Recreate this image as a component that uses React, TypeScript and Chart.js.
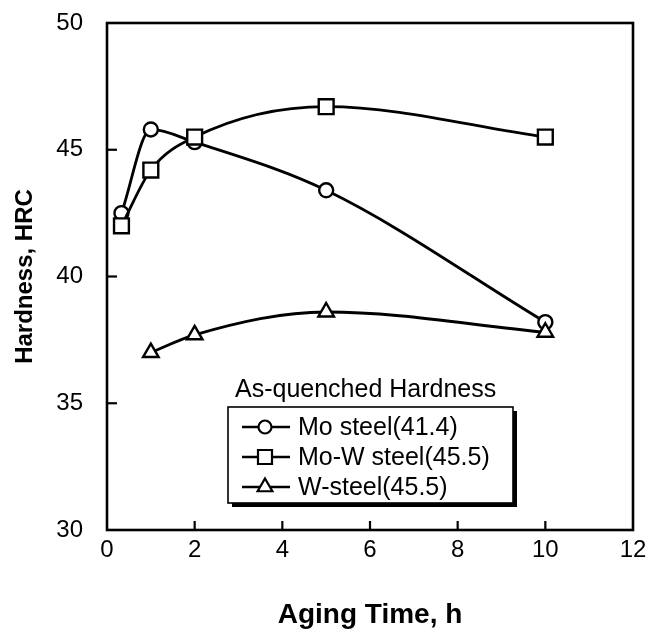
import React, { useEffect, useRef } from "react";
import { Chart, registerables } from "chart.js";

Chart.register(...registerables);

// ---- data ----
const moTime = [0.33, 1, 2, 5, 10];
const moHardness = [42.5, 45.8, 45.3, 43.4, 38.2];
const moWTime = [0.33, 1, 2, 5, 10];
const moWHardness = [42.0, 44.2, 45.5, 46.7, 45.5];
const wTime = [1, 2, 5, 10];
const wHardness = [37.0, 37.7, 38.6, 37.8];
const seriesLabels = ["Mo steel(41.4)", "Mo-W steel(45.5)", "W-steel(45.5)"];
const seriesMarkers = ["circle", "rect", "triangle"];
const legendTitle = "As-quenched Hardness";
const xTicks = [0, 2, 4, 6, 8, 10, 12];
const yTicks = [30, 35, 40, 45, 50];
const xTitle = "Aging Time, h";
const yTitle = "Hardness, HRC";

const FONT = "'Liberation Sans', Arial, Helvetica, sans-serif";

function drawMarker(ctx: CanvasRenderingContext2D, style: string, x: number, y: number) {
  ctx.beginPath();
  if (style === "circle") {
    ctx.arc(x, y, 6.5, 0, Math.PI * 2);
  } else if (style === "rect") {
    ctx.rect(x - 7, y - 7, 14, 14);
  } else {
    const r = 8.5;
    ctx.moveTo(x, y - r);
    ctx.lineTo(x + r * Math.sin((2 * Math.PI) / 3), y - r * Math.cos((2 * Math.PI) / 3));
    ctx.lineTo(x + r * Math.sin((4 * Math.PI) / 3), y - r * Math.cos((4 * Math.PI) / 3));
    ctx.closePath();
  }
  ctx.fillStyle = "#fff";
  ctx.fill();
  ctx.lineWidth = 2.2;
  ctx.strokeStyle = "#000";
  ctx.stroke();
}

const framePlugin = {
  id: "frameAndLegend",
  afterDraw(chart: any) {
    const { ctx, chartArea: a, scales } = chart;
    ctx.save();
    ctx.strokeStyle = "#000";
    ctx.lineWidth = 2.6;
    ctx.strokeRect(a.left, a.top, a.right - a.left, a.bottom - a.top);
    // inward ticks
    ctx.lineWidth = 2.2;
    for (const v of xTicks) {
      if (v === xTicks[0] || v === xTicks[xTicks.length - 1]) continue;
      const x = scales.x.getPixelForValue(v);
      ctx.beginPath();
      ctx.moveTo(x, a.bottom);
      ctx.lineTo(x, a.bottom - 9);
      ctx.stroke();
    }
    for (const v of yTicks) {
      if (v === yTicks[0] || v === yTicks[yTicks.length - 1]) continue;
      const y = scales.y.getPixelForValue(v);
      ctx.beginPath();
      ctx.moveTo(a.left, y);
      ctx.lineTo(a.left + 10, y);
      ctx.stroke();
    }
    // legend
    const bx = a.left + 121;
    const by = a.top + 384;
    const bw = 285;
    const bh = 96;
    ctx.fillStyle = "#000";
    ctx.fillRect(bx + 4, by + 4, bw, bh);
    ctx.fillStyle = "#fff";
    ctx.fillRect(bx, by, bw, bh);
    ctx.lineWidth = 1.6;
    ctx.strokeRect(bx, by, bw, bh);
    ctx.fillStyle = "#000";
    ctx.font = `25px ${FONT}`;
    ctx.textBaseline = "middle";
    ctx.textAlign = "left";
    ctx.fillText(legendTitle, bx + 7, by - 17);
    seriesLabels.forEach((lab, i) => {
      const ry = by + 20 + i * 30;
      ctx.lineWidth = 2.6;
      ctx.strokeStyle = "#000";
      ctx.beginPath();
      ctx.moveTo(bx + 14, ry);
      ctx.lineTo(bx + 62, ry);
      ctx.stroke();
      drawMarker(ctx, seriesMarkers[i], bx + 37, ry);
      ctx.fillStyle = "#000";
      ctx.font = `25px ${FONT}`;
      ctx.fillText(lab, bx + 70, ry + 1);
    });
    ctx.restore();
  },
};

export default function App() {
  const ref = useRef<HTMLCanvasElement | null>(null);
  useEffect(() => {
    if (!ref.current) return;
    const mk = (xs: number[], ys: number[]) => xs.map((x, i) => ({ x, y: ys[i] }));
    const common = {
      borderColor: "#000",
      borderWidth: 2.8,
      pointBackgroundColor: "#fff",
      pointBorderColor: "#000",
      pointBorderWidth: 2.4,
      cubicInterpolationMode: "monotone" as const,
      fill: false,
      clip: false as any,
    };
    const chart = new Chart(ref.current, {
      type: "line",
      data: {
        datasets: [
          { ...common, label: seriesLabels[0], data: mk(moTime, moHardness), pointStyle: "circle", pointRadius: 7, order: 2 },
          { ...common, label: seriesLabels[1], data: mk(moWTime, moWHardness), pointStyle: "rect", pointRadius: 10.5, order: 0 },
          { ...common, label: seriesLabels[2], data: mk(wTime, wHardness), pointStyle: "triangle", pointRadius: 9, order: 1 },
        ],
      },
      options: {
        responsive: false,
        animation: false,
        events: [],
        layout: { padding: { left: 0, top: 23, right: 18, bottom: 0 } },
        plugins: { legend: { display: false }, tooltip: { enabled: false } },
        scales: {
          x: {
            type: "linear",
            min: 0,
            max: 12,
            afterFit: (s: any) => { s.height = 99; s.paddingLeft = 0; s.paddingRight = 0; },
            grid: { display: false, drawTicks: false },
            border: { display: false },
            ticks: { stepSize: 2, color: "#000", font: { family: FONT, size: 24 }, padding: 6 },
            title: { display: true, text: xTitle, color: "#000", font: { family: FONT, size: 28, weight: "bold", lineHeight: 1 }, padding: 0 },
          },
          y: {
            type: "linear",
            min: 30,
            max: 50,
            afterFit: (s: any) => { s.width = 107; s.paddingTop = 0; s.paddingBottom = 0; },
            grid: { display: false, drawTicks: false },
            border: { display: false },
            ticks: { stepSize: 5, color: "#000", font: { family: FONT, size: 24 }, padding: 24 },
            title: { display: true, text: yTitle, color: "#000", font: { family: FONT, size: 24, weight: "bold" }, padding: { top: 11, bottom: 0 } },
          },
        },
      },
      plugins: [framePlugin],
    });
    return () => chart.destroy();
  }, []);
  return (
    <div style={{ position: "absolute", left: 0, top: 0, width: 651, height: 629, background: "#fff" }}>
      <canvas ref={ref} width={651} height={629} style={{ display: "block" }} />
    </div>
  );
}
